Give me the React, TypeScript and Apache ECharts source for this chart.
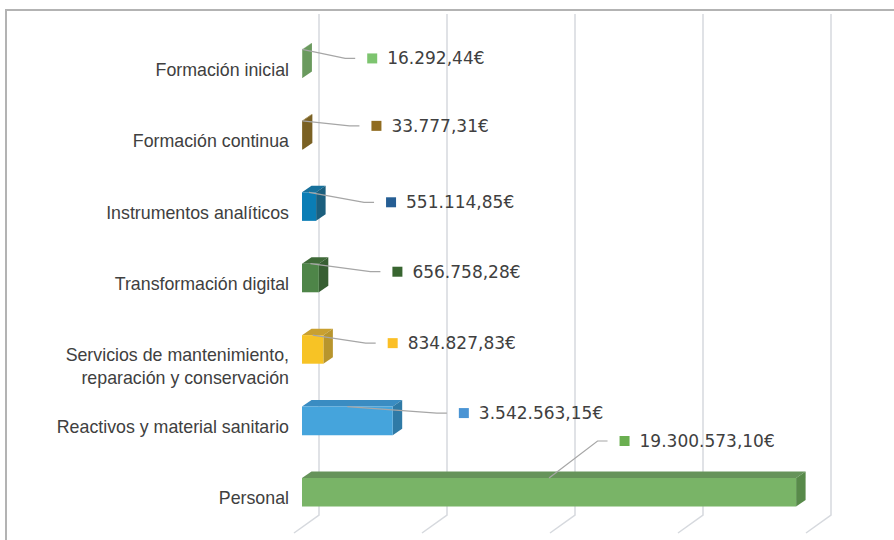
import React, { useEffect, useRef } from "react";
import * as echarts from "echarts";

// ---- data ----
const categories = [
  "Formación inicial",
  "Formación continua",
  "Instrumentos analíticos",
  "Transformación digital",
  "Servicios de mantenimiento,\nreparación y conservación",
  "Reactivos y material sanitario",
  "Personal",
];
const amounts = [16292.44, 33777.31, 551114.85, 656758.28, 834827.83, 3542563.15, 19300573.1];
const gridTicks = [0, 5000000, 10000000, 15000000, 20000000];

// ---- styles (not data) ----
const frontColors = ["#6d9c60", "#7a6020", "#0a7db5", "#4e8548", "#f7c325", "#45a4dc", "#79b467"];
const topColors = ["#6e9e62", "#8c6d1e", "#17719c", "#3f6a38", "#c9a030", "#3a8cc2", "#66935a"];
const sideColors = ["#6a9a5e", "#7a6124", "#1b5f7e", "#375e32", "#b8952d", "#2f7aa6", "#588a4a"];
const keyColors = ["#7dc46f", "#906c20", "#255e94", "#386530", "#fbbf26", "#4a94d4", "#6aaf50"];
// label placement relative to the bar's top-centre (layout)
const labelOffsets = [
  [53, 9],
  [57, 5],
  [65, 10],
  [70, 8],
  [63, 8],
  [99.5, 6.5],
  [58.5, -37],
];

const DEPTH_X = 9.5;
const DEPTH_Y = -6.5;
const FONT = "Liberation Sans";
const VALUE_FONT = "DejaVu Sans";

function fmtEuro(n: number): string {
  const [i, d] = n.toFixed(2).split(".");
  return i.replace(/\B(?=(\d{3})+(?!\d))/g, ".") + "," + d + "€";
}

function axisLabelFormatter(value: string): string {
  const lines = value.split("\n");
  const spacer = lines.length > 1 ? "{s2| }" : "{s1| }";
  return spacer + "\n" + lines.map((l) => "{a|" + l + "}").join("\n");
}

export default function App() {
  const ref = useRef<HTMLDivElement>(null);
  useEffect(() => {
    if (!ref.current) return;
    const chart = echarts.init(ref.current, undefined, { renderer: "svg" });
    const option: any = {
      animation: false,
      backgroundColor: "#ffffff",
      grid: { left: 302, right: 80, top: 28, bottom: 12, containLabel: false },
      xAxis: {
        type: "value",
        min: 0,
        max: 20000000,
        interval: 5000000,
        axisLabel: { show: false },
        axisLine: { show: false },
        axisTick: { show: false },
        splitLine: { show: false },
      },
      yAxis: {
        type: "category",
        inverse: true,
        data: categories,
        axisLine: { show: false },
        axisTick: { show: false },
        splitLine: { show: false },
        axisLabel: {
          margin: 13,
          align: "right",
          formatter: axisLabelFormatter,
          rich: {
            s1: { lineHeight: 12, fontSize: 1 },
            s2: { lineHeight: 35, fontSize: 1 },
            a: {
              color: "#404040",
              fontSize: 17.8,
              fontFamily: FONT,
              lineHeight: 23,
              align: "right",
            },
          },
        },
      },
      graphic: [
        {
          type: "rect",
          shape: { x: 6, y: 10, width: 1000, height: 1000 },
          style: { fill: "none", stroke: "#b3b3b3", lineWidth: 2 },
          z: 0,
        },
      ],
      series: [
        {
          type: "custom",
          name: "grid",
          z: 1,
          silent: true,
          encode: { x: 0 },
          data: gridTicks.map((v) => [v]),
          renderItem: (params: any, api: any) => {
            const cs = params.coordSys;
            const x = api.coord([api.value(0), 0])[0];
            const top = cs.y - 14;
            const backY = cs.y + cs.height - 13;
            return {
              type: "polyline",
              shape: {
                points: [
                  [x + 17, top],
                  [x + 17, backY],
                  [x - 8, backY + 18],
                ],
              },
              style: { stroke: "#d6d9de", lineWidth: 1.5, fill: "none" },
            };
          },
        },
        {
          type: "custom",
          name: "bars",
          z: 2,
          encode: { x: 0, y: 1 },
          data: amounts.map((v, i) => [v, i]),
          renderItem: (params: any, api: any) => {
            const v = api.value(0);
            const i = api.value(1);
            const p0 = api.coord([0, i]);
            const p1 = api.coord([v, i]);
            const h = api.size([0, 1])[1] * 0.4;
            const x0 = p0[0];
            const x1 = p1[0];
            const yT = p0[1] - h / 2;
            const yB = p0[1] + h / 2;
            const [ldx, ldy] = labelOffsets[i];
            const ax = (x0 + x1) / 2;
            const ay = yT;
            const ex = ax + ldx;
            const ey = ay + ldy;
            return {
              type: "group",
              children: [
                {
                  type: "polygon",
                  shape: {
                    points: [
                      [x0, yT],
                      [x1, yT],
                      [x1 + DEPTH_X, yT + DEPTH_Y],
                      [x0 + DEPTH_X, yT + DEPTH_Y],
                    ],
                  },
                  style: { fill: topColors[i] },
                },
                {
                  type: "polygon",
                  shape: {
                    points: [
                      [x1, yT],
                      [x1, yB],
                      [x1 + DEPTH_X, yB + DEPTH_Y],
                      [x1 + DEPTH_X, yT + DEPTH_Y],
                    ],
                  },
                  style: { fill: sideColors[i] },
                },
                {
                  type: "rect",
                  shape: { x: x0, y: yT, width: Math.max(x1 - x0, 0.5), height: h },
                  style: { fill: frontColors[i] },
                },
                {
                  type: "polyline",
                  shape: {
                    points: [
                      [ax, ay],
                      [ex - 10, ey],
                      [ex, ey],
                    ],
                  },
                  style: { stroke: "#a6a6a6", lineWidth: 1.2, fill: "none" },
                },
                {
                  type: "rect",
                  shape: { x: ex + 12, y: ey - 5, width: 10, height: 10 },
                  style: { fill: keyColors[i] },
                },
                {
                  type: "text",
                  style: {
                    text: fmtEuro(v),
                    x: ex + 32,
                    y: ey,
                    fill: "#404040",
                    fontSize: 17,
                    fontFamily: VALUE_FONT,
                    verticalAlign: "middle",
                    align: "left",
                  },
                },
              ],
            };
          },
        },
      ],
    };
    chart.setOption(option);
    return () => chart.dispose();
  }, []);
  return (
    <div
      ref={ref}
      style={{ position: "fixed", left: 0, top: 0, width: 894, height: 540, background: "#fff" }}
    />
  );
}
